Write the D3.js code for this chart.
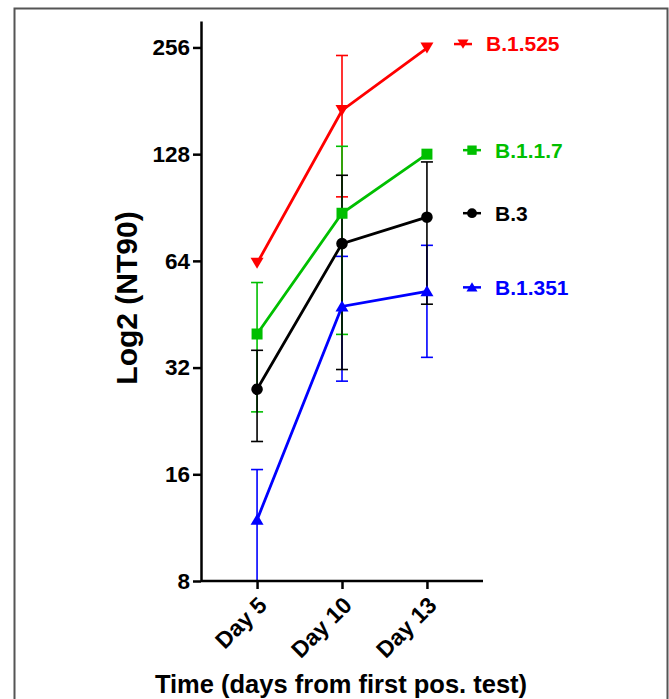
<!DOCTYPE html>
<html>
<head>
<meta charset="utf-8">
<script src="https://cdn.jsdelivr.net/npm/d3@7"></script>
<style>
  body { margin: 0; background: #fff; }
  svg text { font-family: Arial, "Liberation Sans", sans-serif; font-weight: bold; }
</style>
</head>
<body>
<svg width="669" height="699"></svg>
<script>
// data (geometric titres, error = SD)
const days = ["Day 5", "Day 10", "Day 13"];
const variants = ["B.1.525", "B.1.351", "B.1.1.7", "B.3"];
const colors = ["#ff0000", "#0000ff", "#00bf00", "#000000"];
const shapes = ["down", "up", "square", "circle"];

const mean525 = [63, 170, 255];
const sd525 = [null, 73, null];
const mean351 = [11.9, 47.6, 52.5];
const sd351 = [4.6, 18.3, 18.3];
const mean117 = [39.8, 87.2, 128];
const sd117 = [15.8, 47.5, null];
const meanB3 = [27.8, 71.6, 85];
const sdB3 = [8, 40, 36.7];

const yTicks = [8, 16, 32, 64, 128, 256];
const legendOrder = ["B.1.525", "B.1.1.7", "B.3", "B.1.351"];

const means = [mean525, mean351, mean117, meanB3];
const sds = [sd525, sd351, sd117, sdB3];

const svg = d3.select("svg");

// frame
svg.append("rect")
  .attr("x", 14.5).attr("y", 8.5)
  .attr("width", 653).attr("height", 720)
  .attr("fill", "none")
  .attr("stroke", "#555")
  .attr("stroke-width", 2);

const x = d3.scalePoint().domain(days).range([201, 483]).padding(0.66);
const y = d3.scaleLog().base(2).domain([8, 304]).range([581, 21]);

const series = variants.map((name, i) => ({
  name: name,
  color: colors[i],
  shape: shapes[i],
  points: days.map((d, j) => ({ day: d, v: means[i][j], sd: sds[i][j] }))
}));

function symbolPath(shape, s) {
  const k = s || 1;
  if (shape === "down") return `M${-6.5 * k},${-5.5 * k}L${6.5 * k},${-5.5 * k}L0,${5.5 * k}Z`;
  if (shape === "up") return `M${-6.5 * k},${5 * k}L${6.5 * k},${5 * k}L0,${-6 * k}Z`;
  if (shape === "square") return `M${-5.5 * k},${-5.5 * k}h${11 * k}v${11 * k}h${-11 * k}Z`;
  return d3.symbol().type(d3.symbolCircle).size(Math.PI * 5.8 * 5.8 * k * k)();
}

// error bars
const errG = svg.append("g");
series.forEach(s => {
  s.points.filter(p => p.sd != null).forEach(p => {
    const cx = x(p.day);
    const top = y(p.v + p.sd);
    const bot = p.v - p.sd > 8 ? y(p.v - p.sd) : y(8);
    const g = errG.append("g").attr("stroke", s.color).attr("stroke-width", 1.6);
    g.append("line").attr("x1", cx).attr("x2", cx).attr("y1", top).attr("y2", bot);
    g.append("line").attr("x1", cx - 6).attr("x2", cx + 6).attr("y1", top).attr("y2", top);
    if (p.v - p.sd > 8) {
      g.append("line").attr("x1", cx - 6).attr("x2", cx + 6).attr("y1", bot).attr("y2", bot);
    }
  });
});

// lines
const line = d3.line().x(p => x(p.day)).y(p => y(p.v));
svg.append("g").selectAll("path")
  .data(series)
  .join("path")
  .attr("d", s => line(s.points))
  .attr("fill", "none")
  .attr("stroke", s => s.color)
  .attr("stroke-width", 2.8);

// markers
series.forEach(s => {
  svg.append("g").selectAll("path")
    .data(s.points)
    .join("path")
    .attr("transform", p => `translate(${x(p.day)},${y(p.v)})`)
    .attr("d", symbolPath(s.shape))
    .attr("fill", s.color);
});

// axes
const yAxis = svg.append("g")
  .attr("transform", "translate(201,0)")
  .call(d3.axisLeft(y).tickValues(yTicks).tickFormat(d3.format("d")).tickSize(8).tickSizeOuter(0));
yAxis.select(".domain").attr("stroke-width", 2.5);
yAxis.selectAll(".tick line").attr("stroke-width", 2.5);
yAxis.selectAll("text").attr("font-size", 22.5).attr("fill", "#000").attr("x", -11);

const xAxis = svg.append("g")
  .attr("transform", "translate(0,581)")
  .call(d3.axisBottom(x).tickSize(8).tickSizeOuter(0));
xAxis.select(".domain").attr("stroke-width", 2.5).attr("d", "M201,0H483");
xAxis.selectAll(".tick line").attr("stroke-width", 2.5);
xAxis.selectAll("text")
  .attr("font-size", 23)
  .attr("fill", "#000")
  .attr("x", 0).attr("y", 0)
  .attr("dy", "0.35em")
  .attr("transform", "translate(5,20) rotate(-45)")
  .style("text-anchor", "end");

// axis titles
svg.append("text")
  .attr("transform", "translate(137,298) rotate(-90)")
  .attr("text-anchor", "middle")
  .attr("font-size", 30)
  .text("Log2 (NT90)");

svg.append("text")
  .attr("x", 341).attr("y", 693)
  .attr("text-anchor", "middle")
  .attr("font-size", 25.5)
  .text("Time (days from first pos. test)");

// legend, placed next to the last point of each series
const legend = svg.append("g");
legendOrder.forEach(name => {
  const s = series.find(d => d.name === name);
  const last = s.points[s.points.length - 1];
  const ly = y(last.v) - 4;
  const mx = name === "B.1.525" ? 463 : 472;
  const g = legend.append("g").attr("transform", `translate(${mx},${ly})`);
  g.append("line").attr("x1", -9).attr("x2", 9)
    .attr("stroke", s.color).attr("stroke-width", 2.5);
  g.append("path").attr("d", symbolPath(s.shape, 0.85)).attr("fill", s.color);
  g.append("text")
    .attr("x", 23).attr("dy", "0.35em")
    .attr("font-size", 21)
    .attr("fill", s.color)
    .text(name);
});
</script>
</body>
</html>
